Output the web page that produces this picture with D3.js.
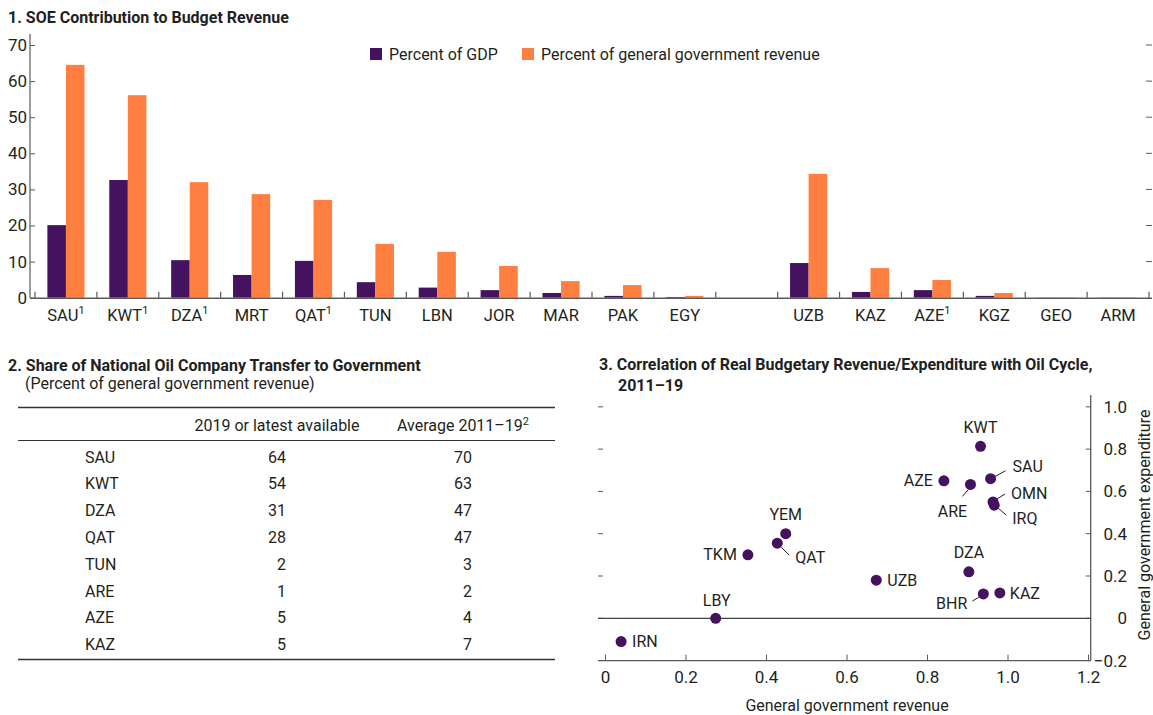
<!DOCTYPE html>
<html>
<head>
<meta charset="utf-8">
<script src="https://cdn.jsdelivr.net/npm/d3@7"></script>
<style>
  body { margin: 0; background: #fff; }
  svg text { font-family: Roboto, "Liberation Sans", sans-serif; fill: #231f20; }
  .title { font-weight: bold; font-size: 16px; }
</style>
</head>
<body>
<svg id="chart" width="1153" height="715"></svg>
<script>
// ---- panel 1 data ----
var barCountries = ["SAU", "KWT", "DZA", "MRT", "QAT", "TUN", "LBN", "JOR", "MAR", "PAK", "EGY", "gap",
                    "UZB", "KAZ", "AZE", "KGZ", "GEO", "ARM"];
var barNote = ["SAU", "KWT", "DZA", "QAT", "AZE"];
var gdpShare = [20.1, 32.6, 10.4, 6.3, 10.2, 4.3, 2.8, 2.1, 1.3, 0.5, 0.2, null,
                9.6, 1.6, 2.1, 0.5, 0.05, 0.05];
var revenueShare = [64.5, 56.1, 32.0, 28.7, 27.1, 14.9, 12.7, 8.8, 4.6, 3.5, 0.5, null,
                    34.3, 8.2, 4.9, 1.3, 0.1, 0.1];
var barTicks = [0, 10, 20, 30, 40, 50, 60, 70];

// ---- panel 2 data ----
var tableCountries = ["SAU", "KWT", "DZA", "QAT", "TUN", "ARE", "AZE", "KAZ"];
var tableLatest = [64, 54, 31, 28, 2, 1, 5, 5];
var tableAverage = [70, 63, 47, 47, 3, 2, 4, 7];

// ---- panel 3 data ----
var scatterCountries = ["IRN", "LBY", "TKM", "QAT", "YEM", "UZB", "DZA", "BHR", "KAZ", "AZE", "ARE", "KWT", "SAU", "OMN", "IRQ"];
var revenueCorr = [0.04, 0.275, 0.355, 0.428, 0.449, 0.674, 0.904, 0.940, 0.981, 0.842, 0.908, 0.933, 0.958, 0.964, 0.967];
var expenditureCorr = [-0.11, 0.0, 0.30, 0.355, 0.40, 0.18, 0.22, 0.115, 0.12, 0.65, 0.633, 0.813, 0.66, 0.55, 0.535];
var scatterXTicks = [0, 0.2, 0.4, 0.6, 0.8, 1.0, 1.2];
var scatterYTicks = [-0.2, 0, 0.2, 0.4, 0.6, 0.8, 1.0];

var purple = "#45125f";
var orange = "#ff7f41";
var axisGrey = "#5a5a5a";
var fs = "16px";

var svg = d3.select("#chart");

// ================= Panel 1: bars =================
svg.append("text").attr("class", "title").attr("x", 8).attr("y", 23)
    .text("1. SOE Contribution to Budget Revenue");

var x = d3.scaleBand().domain(barCountries).range([35, 1149]);
var y = d3.scaleLinear().domain([0, 70]).range([297.7, 45]);
var pairW = x.bandwidth() * 0.6;
var x1 = d3.scaleBand().domain(["gdp", "rev"]).range([0, pairW]);

var barData = barCountries.map(function (c, i) {
    return { name: c, gdp: gdpShare[i], rev: revenueShare[i] };
}).filter(function (d) { return d.gdp !== null; });

var groups = svg.append("g").selectAll("g").data(barData).enter().append("g")
    .attr("transform", function (d) {
        return "translate(" + (x(d.name) + (x.bandwidth() - pairW) / 2) + ",0)";
    });

groups.append("rect")
    .attr("x", x1("gdp")).attr("width", x1.bandwidth())
    .attr("y", function (d) { return y(d.gdp); })
    .attr("height", function (d) { return y(0) - y(d.gdp); })
    .style("fill", purple);

groups.append("rect")
    .attr("x", x1("rev")).attr("width", x1.bandwidth())
    .attr("y", function (d) { return y(d.rev); })
    .attr("height", function (d) { return y(0) - y(d.rev); })
    .style("fill", orange);

// y axis (left)
var yAxis = svg.append("g").attr("transform", "translate(30,0)")
    .call(d3.axisLeft(y).tickValues(barTicks).tickSize(-5).tickPadding(3));
yAxis.select(".domain").remove();
yAxis.selectAll("line").attr("stroke", axisGrey);
yAxis.selectAll("text").style("font-size", "17px").attr("fill", "#231f20");
svg.append("line").attr("x1", 30).attr("x2", 30).attr("y1", 34).attr("y2", y(0))
    .style("stroke", axisGrey).style("stroke-width", 1.2);

// right ticks
svg.append("g").selectAll("line").data(barTicks.filter(function (t) { return t > 0; })).enter()
    .append("line")
    .attr("x1", 1146).attr("x2", 1152)
    .attr("y1", function (d) { return y(d); }).attr("y2", function (d) { return y(d); })
    .style("stroke", axisGrey);

// x axis line and category boundary ticks
svg.append("line").attr("x1", 30).attr("x2", 1152).attr("y1", y(0) + 0.5).attr("y2", y(0) + 0.5)
    .style("stroke", axisGrey).style("stroke-width", 1.5);
var bounds = barCountries.map(function (c) { return x(c); }).concat([x.range()[1]]);
svg.append("g").selectAll("line").data(bounds).enter().append("line")
    .attr("x1", function (d) { return d; }).attr("x2", function (d) { return d; })
    .attr("y1", y(0) - 6).attr("y2", y(0))
    .style("stroke", axisGrey).style("stroke-width", 1.2);

var xLabels = svg.append("g").selectAll("text")
    .data(barCountries.filter(function (c) { return c !== "gap"; })).enter()
    .append("text")
    .attr("x", function (d) { return x(d) + x.bandwidth() / 2; })
    .attr("y", 321)
    .attr("text-anchor", "middle")
    .style("font-size", "16.5px");
xLabels.append("tspan").text(function (d) { return d; });
xLabels.filter(function (d) { return barNote.indexOf(d) >= 0; })
    .append("tspan").attr("dy", -7).style("font-size", "11px").text("1");

// legend
var legend = [{ label: "Percent of GDP", color: purple, x: 370 }, { label: "Percent of general government revenue", color: orange, x: 522 }];
var lg = svg.append("g").selectAll("g").data(legend).enter().append("g")
    .attr("transform", function (d) { return "translate(" + d.x + ",48)"; });
lg.append("rect").attr("width", 12).attr("height", 12).style("fill", function (d) { return d.color; });
lg.append("text").attr("x", 19).attr("y", 12).style("font-size", fs).text(function (d) { return d.label; });

// ================= Panel 2: table =================
svg.append("text").attr("class", "title").attr("x", 8).attr("y", 371)
    .text("2. Share of National Oil Company Transfer to Government");
svg.append("text").attr("x", 25).attr("y", 389).style("font-size", fs)
    .text("(Percent of general government revenue)");

var ruleY = [407.5, 440.5, 659.5];
svg.append("g").selectAll("line").data(ruleY).enter().append("line")
    .attr("x1", 18).attr("x2", 555)
    .attr("y1", function (d) { return d; }).attr("y2", function (d) { return d; })
    .style("stroke", "#333").style("stroke-width", function (d, i) { return i === 1 ? 1 : 1.3; });

svg.append("text").attr("x", 277).attr("y", 430.5).attr("text-anchor", "middle").style("font-size", fs)
    .text("2019 or latest available");
var avgHead = svg.append("text").attr("x", 463).attr("y", 430.5).attr("text-anchor", "middle").style("font-size", fs);
avgHead.append("tspan").text("Average 2011\u201319");
avgHead.append("tspan").attr("dy", -6).style("font-size", "11px").text("2");

var rowY = d3.scaleLinear().domain([0, tableCountries.length - 1]).range([457, 644.5]);
var rows = svg.append("g").selectAll("g").data(tableCountries).enter().append("g")
    .attr("transform", function (d, i) { return "translate(0," + rowY(i) + ")"; });
rows.append("text").attr("x", 85).attr("dy", "0.35em").style("font-size", fs).text(function (d) { return d; });
rows.append("text").attr("x", 286).attr("dy", "0.35em").attr("text-anchor", "end").style("font-size", fs)
    .text(function (d, i) { return tableLatest[i]; });
rows.append("text").attr("x", 472).attr("dy", "0.35em").attr("text-anchor", "end").style("font-size", fs)
    .text(function (d, i) { return tableAverage[i]; });

// ================= Panel 3: scatter =================
svg.append("text").attr("class", "title").attr("x", 599).attr("y", 370)
    .text("3. Correlation of Real Budgetary Revenue/Expenditure with Oil Cycle,");
svg.append("text").attr("class", "title").attr("x", 618).attr("y", 391).text("2011\u201319");

var sx = d3.scaleLinear().domain([0, 1.2]).range([605, 1088]);
var sy = d3.scaleLinear().domain([-0.2, 1.0]).range([660.6, 406.8]);
var plotL = 598, plotR = 1090.7;

// x axis
var sxAxis = svg.append("g").attr("transform", "translate(0," + sy(-0.2) + ")")
    .call(d3.axisBottom(sx).tickValues(scatterXTicks).tickSize(-6).tickPadding(10)
        .tickFormat(function (d) { return d === 0 ? "0" : d3.format(".1f")(d); }));
sxAxis.select(".domain").remove();
sxAxis.selectAll("line").attr("stroke", axisGrey);
sxAxis.selectAll("text").style("font-size", "17px").attr("fill", "#231f20");
svg.append("line").attr("x1", plotL).attr("x2", plotR).attr("y1", sy(-0.2)).attr("y2", sy(-0.2))
    .style("stroke", axisGrey).style("stroke-width", 1.3);

// right axis
svg.append("line").attr("x1", plotR).attr("x2", plotR).attr("y1", 395).attr("y2", sy(-0.2))
    .style("stroke", axisGrey).style("stroke-width", 1.3);
var yt = svg.append("g");
yt.selectAll("line.r").data(scatterYTicks).enter().append("line").attr("class", "r")
    .attr("x1", plotR - 5).attr("x2", plotR)
    .attr("y1", function (d) { return sy(d); }).attr("y2", function (d) { return sy(d); })
    .style("stroke", axisGrey);
yt.selectAll("line.l").data(scatterYTicks).enter().append("line").attr("class", "l")
    .attr("x1", plotL).attr("x2", plotL + 5)
    .attr("y1", function (d) { return sy(d); }).attr("y2", function (d) { return sy(d); })
    .style("stroke", axisGrey);
yt.selectAll("text").data(scatterYTicks).enter().append("text")
    .attr("x", 1127).attr("y", function (d) { return sy(d); }).attr("dy", "0.35em")
    .attr("text-anchor", "end").style("font-size", "17px")
    .text(function (d) { return d === 0 ? "0" : d3.format(".1f")(d); });

// zero line
svg.append("line").attr("x1", plotL).attr("x2", plotR).attr("y1", sy(0)).attr("y2", sy(0))
    .style("stroke", "#444").style("stroke-width", 1.2);

// axis titles
svg.append("text").attr("x", 847).attr("y", 711).attr("text-anchor", "middle").style("font-size", fs)
    .text("General government revenue");
svg.append("text").attr("transform", "translate(1150,525) rotate(-90)").attr("text-anchor", "middle")
    .style("font-size", fs).text("General government expenditure");

// label layout: offsets from point (dx, dy), anchor, optional leader line
var labelLayout = {
    IRN: { dx: 11, dy: 0, a: "start" },
    LBY: { dx: 1, dy: -18, a: "middle" },
    TKM: { dx: -11, dy: 0, a: "end" },
    QAT: { dx: 18, dy: 14, a: "start", l: [4, 4, 12, 12] },
    YEM: { dx: 0, dy: -19, a: "middle" },
    UZB: { dx: 11, dy: 0, a: "start" },
    DZA: { dx: 0, dy: -19, a: "middle" },
    BHR: { dx: -16, dy: 9, a: "end", l: [-4, 3, -11, 7] },
    KAZ: { dx: 10, dy: 0, a: "start" },
    AZE: { dx: -11, dy: 0, a: "end" },
    ARE: { dx: -18, dy: 27, a: "middle", l: [-2, 5, -8, 12] },
    KWT: { dx: 0, dy: -19, a: "middle" },
    SAU: { dx: 22, dy: -12, a: "start", l: [4, -2, 15, -8] },
    OMN: { dx: 18, dy: -9, a: "start", l: [4, -3, 12, -8] },
    IRQ: { dx: 18, dy: 13, a: "start", l: [4, 3, 12, 10] }
};

var pts = scatterCountries.map(function (c, i) {
    return { name: c, x: sx(revenueCorr[i]), y: sy(expenditureCorr[i]), lay: labelLayout[c] };
});

svg.append("g").selectAll("line").data(pts.filter(function (d) { return d.lay.l; })).enter()
    .append("line")
    .attr("x1", function (d) { return d.x + d.lay.l[0]; }).attr("y1", function (d) { return d.y + d.lay.l[1]; })
    .attr("x2", function (d) { return d.x + d.lay.l[2]; }).attr("y2", function (d) { return d.y + d.lay.l[3]; })
    .style("stroke", "#231f20").style("stroke-width", 1);

svg.append("g").selectAll("circle").data(pts).enter().append("circle")
    .attr("cx", function (d) { return d.x; }).attr("cy", function (d) { return d.y; })
    .attr("r", 5.5).style("fill", purple);

svg.append("g").selectAll("text").data(pts).enter().append("text")
    .attr("x", function (d) { return d.x + d.lay.dx; })
    .attr("y", function (d) { return d.y + d.lay.dy; })
    .attr("dy", "0.35em")
    .attr("text-anchor", function (d) { return d.lay.a; })
    .style("font-size", fs)
    .text(function (d) { return d.name; });
</script>
</body>
</html>
